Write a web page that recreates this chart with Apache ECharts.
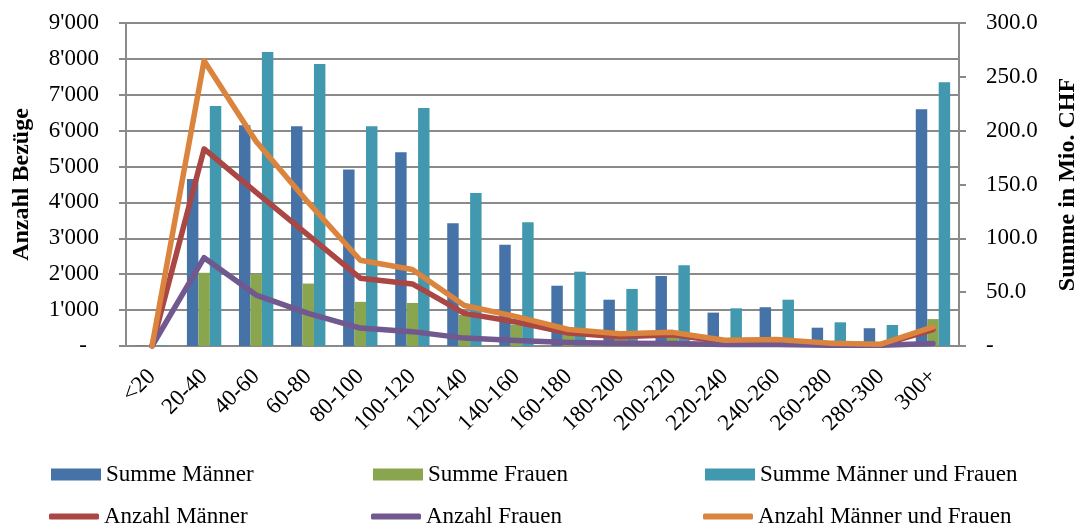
<!DOCTYPE html>
<html>
<head>
<meta charset="utf-8">
<script src="https://cdn.jsdelivr.net/npm/echarts@6/dist/echarts.min.js"></script>
<style>
  html, body { margin: 0; padding: 0; background: #fff; }
  #main { width: 1080px; height: 530px; }
</style>
</head>
<body>
<div id="main"></div>
<script>
// categories (in 1'000 CHF)
const categories = ["<20", "20-40", "40-60", "60-80", "80-100", "100-120", "120-140", "140-160",
  "160-180", "180-200", "200-220", "220-240", "240-260", "260-280", "280-300", "300+"];

// Summe in Mio. CHF (right axis)
const summeMaenner = [0.3, 155, 205, 204, 164, 180, 114, 94, 56, 43, 65, 31, 36, 17, 16.5, 220];
const summeFrauen = [0.1, 68, 67, 58, 41, 40, 29, 20, 13, 10, 10, 4, 7, 5, 3, 25];
const summeTotal = [0.5, 223, 273, 262, 204, 221, 142, 115, 69, 53, 75, 35, 43, 22, 19.5, 245];

// Anzahl Bezüge (left axis)
const anzahlMaenner = [0, 5490, 4280, 3090, 1890, 1730, 910, 670, 360, 260, 310, 120, 140, 60, 30, 460];
const anzahlFrauen = [0, 2460, 1420, 910, 500, 400, 220, 150, 100, 80, 70, 40, 40, 20, 20, 70];
const anzahlTotal = [0, 7950, 5700, 4000, 2390, 2130, 1130, 820, 460, 340, 380, 160, 180, 80, 50, 530];

const font = "Liberation Serif";
const gridColor = "#8a8a8a";
const fs = 23;

function thousands(v) {
  if (v === 0) return "{z|-}";
  return String(v).replace(/\B(?=(\d{3})+(?!\d))/g, "'");
}

function legendItem(name, left, top, isLine) {
  return {
    data: [name],
    left: left,
    top: top,
    padding: 0,
    itemGap: 0,
    icon: isLine ? "roundRect" : "rect",
    itemWidth: 50,
    itemHeight: isLine ? 6 : 12,
    textStyle: { fontFamily: font, fontSize: fs, color: "#000" },
    selectedMode: false,
  };
}

let option = {
  animation: false,
  textStyle: { fontFamily: font },
  grid: { left: 126, right: 121, top: 23, bottom: 184, outerBoundsMode: "none" },
  legend: [
    legendItem("Summe Männer", 51, 463, false),
    legendItem("Summe Frauen", 373, 463, false),
    legendItem("Summe Männer und Frauen", 705, 463, false),
    legendItem("Anzahl Männer", 49, 505, true),
    legendItem("Anzahl Frauen", 371, 505, true),
    legendItem("Anzahl Männer und Frauen", 703, 505, true),
  ],
  xAxis: {
    type: "category",
    data: categories,
    boundaryGap: true,
    axisLine: { lineStyle: { color: gridColor, width: 2 } },
    axisTick: { length: 7, lineStyle: { color: gridColor, width: 2 } },
    axisLabel: {
      interval: 0,
      rotate: 45,
      margin: 27,
      fontFamily: font,
      fontSize: fs,
      color: "#000",
    },
  },
  yAxis: [
    {
      type: "value",
      min: 0,
      max: 9000,
      interval: 1000,
      name: "Anzahl Bezüge",
      nameLocation: "middle",
      nameRotate: 90,
      nameGap: 92,
      nameTextStyle: { fontFamily: font, fontSize: 24, fontWeight: "bold", color: "#000" },
      axisLine: { show: true, lineStyle: { color: gridColor, width: 2 } },
      axisTick: { show: true, length: 7, lineStyle: { color: gridColor, width: 2 } },
      splitLine: { show: true, lineStyle: { color: gridColor, width: 2 } },
      axisLabel: {
        margin: 27,
        fontFamily: font,
        fontSize: fs,
        color: "#000",
        formatter: thousands,
        rich: { z: { fontFamily: font, fontSize: fs, color: "#000", padding: [0, 12, 0, 0] } },
      },
    },
    {
      type: "value",
      min: 0,
      max: 300,
      interval: 50,
      name: "Summe in Mio. CHF",
      nameLocation: "middle",
      nameRotate: 90,
      nameGap: 97,
      nameTextStyle: { fontFamily: font, fontSize: 24, fontWeight: "bold", color: "#000" },
      axisLine: { show: true, lineStyle: { color: gridColor, width: 2 } },
      axisTick: { show: true, length: 7, lineStyle: { color: gridColor, width: 2 } },
      splitLine: { show: false },
      axisLabel: {
        margin: 27,
        fontFamily: font,
        fontSize: fs,
        color: "#000",
        formatter: function (v) {
          return v === 0 ? "-" : v.toFixed(1);
        },
      },
    },
  ],
  series: [
    {
      name: "Summe Männer",
      type: "bar",
      yAxisIndex: 1,
      barGap: "0%",
      barCategoryGap: "34%",
      itemStyle: { color: "#4572A7" },
      data: summeMaenner,
    },
    {
      name: "Summe Frauen",
      type: "bar",
      yAxisIndex: 1,
      itemStyle: { color: "#89A54E" },
      data: summeFrauen,
    },
    {
      name: "Summe Männer und Frauen",
      type: "bar",
      yAxisIndex: 1,
      itemStyle: { color: "#4198AF" },
      data: summeTotal,
    },
    {
      name: "Anzahl Männer",
      type: "line",
      yAxisIndex: 0,
      showSymbol: false,
      symbol: "none",
      itemStyle: { color: "#AA4643" },
      lineStyle: { width: 5.5, cap: "round", join: "round" },
      data: anzahlMaenner,
    },
    {
      name: "Anzahl Frauen",
      type: "line",
      yAxisIndex: 0,
      showSymbol: false,
      symbol: "none",
      itemStyle: { color: "#71588F" },
      lineStyle: { width: 5.5, cap: "round", join: "round" },
      data: anzahlFrauen,
    },
    {
      name: "Anzahl Männer und Frauen",
      type: "line",
      yAxisIndex: 0,
      showSymbol: false,
      symbol: "none",
      itemStyle: { color: "#DB843D" },
      lineStyle: { width: 5.5, cap: "round", join: "round" },
      data: anzahlTotal,
    },
  ],
};

let chartDom = document.getElementById("main");
let myChart = echarts.init(chartDom);
option && myChart.setOption(option);
</script>
</body>
</html>
